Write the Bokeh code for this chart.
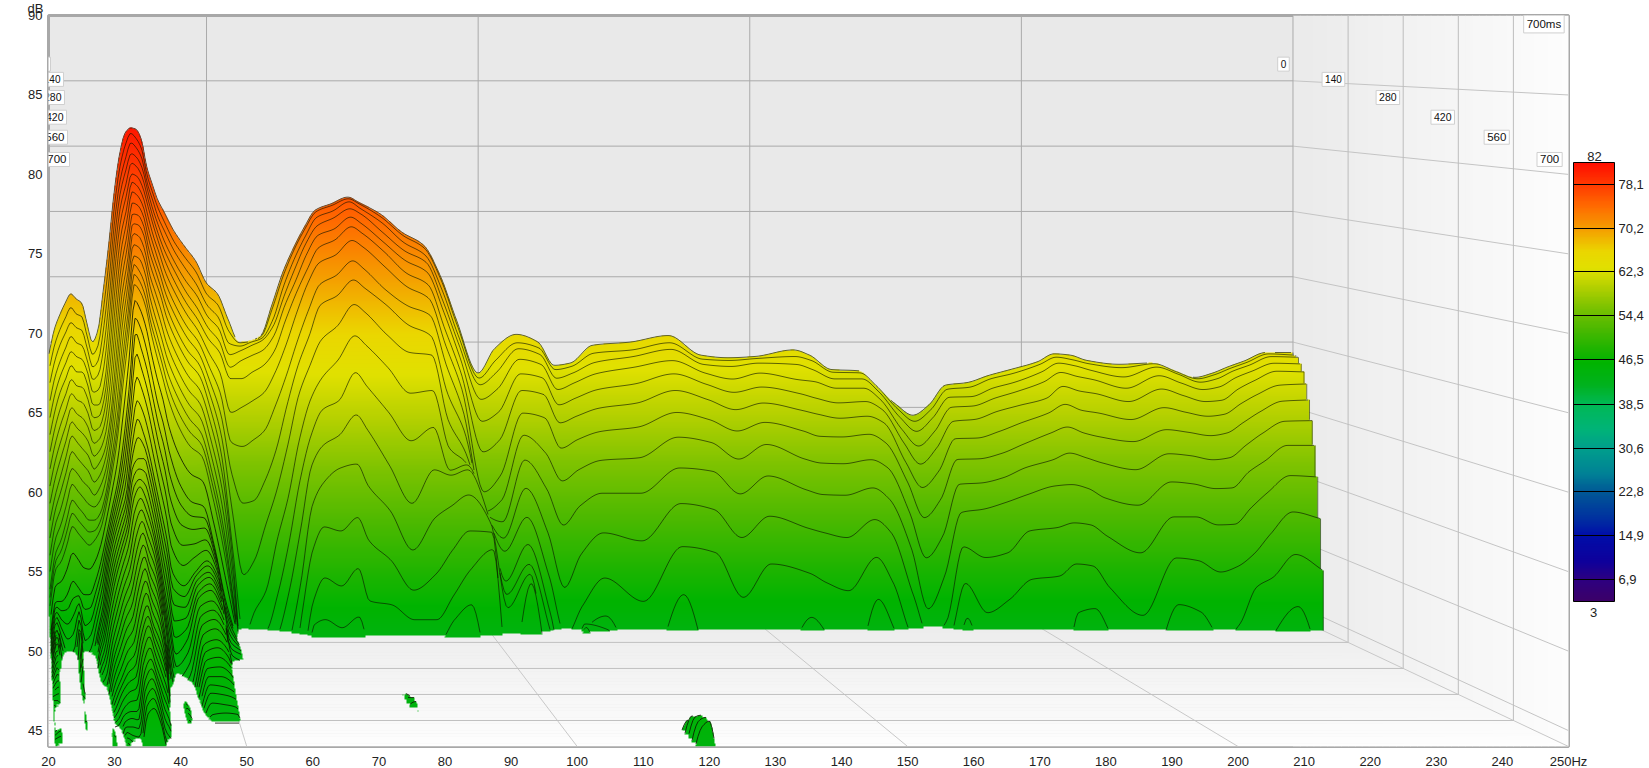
import numpy as np
from bokeh.core.properties import value
from bokeh.embed import file_html
from bokeh.layouts import column
from bokeh.models import ColorBar, FixedTicker, LinearColorMapper, Range1d
from bokeh.plotting import figure
from bokeh.resources import INLINE

# ---------------- axis texts ----------------
HZ_TICKS = list(range(20, 251, 10))
DB_TICKS = list(range(45, 91, 5))
BACK_HZ = [50, 100, 150, 200, 250]
TIME_LABELS = ["0", "140", "280", "420", "560", "700"]
TIME_DEPTH = [0.0, 0.2, 0.4, 0.6, 0.8, 1.0]
BAR_TICKS = [6.9, 14.9, 22.8, 30.6, 38.5, 46.5, 54.4, 62.3, 70.2, 78.1]
BAR_STOPS = [3, 6.9, 10, 14.9, 18, 22.8, 26, 30.6, 34, 38.5, 42, 46, 48, 52, 56, 60, 63, 66, 70, 74, 78, 82]
BAR_COLORS = [(60,0,105),(45,0,130),(15,0,155),(0,15,170),(0,50,160),(0,90,150),(0,130,150),(0,160,140),(0,180,120),
              (0,185,85),(0,178,30),(0,180,0),(25,180,0),(75,185,0),(125,195,0),(185,210,0),(225,225,0),(235,215,0),
              (245,160,0),(255,110,0),(255,60,0),(255,15,0)]
FLOOR_DB = 44.0

# ---------------- low-frequency decays: dB of each frequency, per slice of K_LOW ----------------
K_LOW = list(range(17)) + list(range(18, 41, 2)) + list(range(43, 101, 3))
F_LOW = [21,22,23,24,25,26,27,28,29,30,31,32,33,34,35,36,37,38,39,40,41,42,44,46,48,50,52,54]
D21 = [64.1,62.9,61.7,60.4,59.2,58,56.8,55.6,54.4,53.2,52,50.8,49.6,48.5,47.3,46.8,46.3,45.4,44.5,44.5,44.4,44.4,44.4,44.3,44.3,44.3,44.3,44.2,44.2]+[44.2]*20
D22 = [66,64.8,63.6,62.4,61.2,60,58.8,57.6,56.4,55.2,54,53,52,51,50,49.5,49,48,47,46.8,46.6,46.4,46.2,46,46,45.9,45.9,45.8,45.8,45.6,45.5,45.3,45.2,45,44.8,44.6,44.4,44.2,43.8,43.5,43.2,43.1,43,43,43.3,44.4,44.5,44.4,43.6]
D23 = [67.1,66,64.9,63.7,62.6,61.5,60.3,59.1,57.9,56.7,55.5,54.4,53.2,52.1,51,50.3,49.6,48.3,47,46.5,46,45.5,45,44.5,44.1,43.8,43.5,43.2,43]+[40]*20
D24 = [68,66.9,65.8,64.7,63.6,62.5,61.4,60.3,59.2,58.1,57,55.9,54.8,53.6,52.5,51.7,50.8,49.2,47.5,46.6,45.7,44.8,43.9,43]+[40]*25
D25 = [68.7,67.7,66.6,65.6,64.5,63.5,62.5,61.5,60.5,59.5,58.5,57.4,56.2,55.1,54,53.1,52.2,50.4,48.5,47.4,46.3,45.2,44.1,43]+[40]*25
D26 = [68.3,67.2,66.2,65.1,64.1,63,62,61,60,59,58,56.9,55.8,54.6,53.5,52.6,51.7,49.9,48,47.6,47.2,46.8,46.4,46,46,46,46.1,46.2,46.3,46.4,46.4,46.2,45.9,45.5,45.2,44.9,44.5,44.1,43.7,44,44.2,44.3,44.4,44.3,44.1,43.5,43,43,43]
D27 = [68,67,66,64.9,63.9,63,61.9,60.8,59.7,58.6,57.5,56.4,55.2,54.1,53,52.1,51.2,49.3,47.5,46.6,45.6,44.7,43.8,43]+[40]*25
D28 = [66.4,65.5,64.6,63.7,62.9,62,61,60,59,58,57,55.9,54.8,53.6,52.5,51.7,50.8,49.2,47.5,46.7,45.9,45.1,44.3,43.5]+[40]*25
D29 = [65,64.1,63.2,62.3,61.4,60.5,59.6,58.7,57.8,56.9,56,55.1,54.2,53.4,52.5,51.8,51.2,49.8,48.5,47.9,47.3,46.7,46.1,45.5,45.3,45,44.8,44.6,44.4,44.2,44.1,43.9,43.7,43.5]+[40]*15
D30 = [65.9,64.8,63.7,62.7,61.6,60.5,59.7,58.9,58.1,57.3,56.5,55.6,54.8,53.9,53,52.5,52,51,50,49.5,49,48.5,48,47.5,47.2,46.9,46.6,46.3,46,45.7,45.4,45.1,44.6,44.2,43.9,43.7,43.6,43.5,43.5,43.5,43.6,43.7,43.8,43.9,43.9,44.4,44.6,44.7,44.8]
D31 = [69,67.6,66.2,64.8,63.4,62,61.1,60.2,59.3,58.4,57.5,56.8,56,55.3,54.5,54.1,53.7,52.9,52,51.7,51.4,51.1,50.8,50.5,50.1,49.7,49.3,48.9,48.5,48.1,47.7,47.3,46.9,46.5,46.2,45.9,45.6,45.3,45,44.8,44.6,44.4,44.2,44.1,43.8,43.5,43.2,43,43]
D32 = [72.5,71.2,69.9,68.6,67.3,66,64.8,63.6,62.4,61.2,60,59.3,58.5,57.8,57,56.5,56,55,54,53.7,53.4,53.1,52.8,52.5,52.1,51.7,51.3,50.9,50.5,50,49.5,49,48.5,48,47.6,47.2,46.8,46.4,46,45.8,45.6,45.3,45,44.8,44.6,44.5,44.4,44.3,44.2]
D33 = [76.5,75.4,74.3,73.2,72.1,71,69.7,68.4,67.1,65.8,64.5,63.4,62.3,61.1,60,59.3,58.7,57.3,56,55.6,55.2,54.8,54.4,54,53.6,53.2,52.8,52.4,52,51.5,51,50.5,50,49.5,49,48.5,48,47.5,47,46.6,46.2,45.8,45.4,45,44.8,44.5,44.2,44,43.8]
D34 = [79.4,78.4,77.4,76.5,75.5,74.5,73.4,72.3,71.2,70.1,69,67.9,66.8,65.6,64.5,63.6,62.7,60.8,59,58.3,57.6,56.9,56.2,55.5,55.1,54.7,54.3,53.9,53.5,52.9,52.3,51.7,51.1,50.5,49.9,49.3,48.7,48.1,47.5,47,46.5,46,45.5,45,44.7,44.4,44.1,43.8,43.7]
D35 = [81,80.1,79.1,78.2,77.2,76.3,75.3,74.4,73.4,72.5,71.5,70.6,69.8,68.9,68,67.2,66.3,64.7,63,62.2,61.4,60.6,59.8,59,58.4,57.8,57.2,56.6,56,55.3,54.6,53.9,53.2,52.5,51.9,51.3,50.7,50.1,49.5,49.1,48.7,48.3,47.9,47.5,47.2,46.9,46.6,46.3,46]
D36 = [81.4,81,80.3,79.5,78.8,78,77.4,76.7,75.9,75.1,74.4,73.7,72.9,72.1,71.5,70.8,70.1,69,67.8,66.8,65.4,63.8,62.2,61,59.8,58.4,57.8,57.2,56.8,56.2,55.6,55,54.4,53.8,53.2,52.6,52,51.4,50.8,50.3,49.9,49.4,48.9,48.4,48,47.6,47.2,46.8,46.4]
D37 = [81.3,80.6,79.9,79.2,78.5,77.8,77.1,76.4,75.7,75,74.3,73.5,72.7,71.9,71,70.3,69.6,68.3,67,65.6,64.2,62.8,61.4,60,59.2,58.4,57.6,56.8,56,55.3,54.6,53.9,53.2,52.5,51.9,51.3,50.7,50.1,49.5,49.1,48.7,48.2,47.7,47.3,47,46.6,46.2,45.8,45.5]
D38 = [80.5,79.8,79.1,78.4,77.7,77,76.3,75.6,74.9,74.2,73.5,72.6,71.8,70.9,70,69.2,68.5,67,65.5,64.1,62.7,61.3,59.9,58.5,57.7,56.9,56.1,55.3,54.5,53.9,53.3,52.7,52.1,51.5,50.9,50.3,49.7,49.1,48.5,48,47.5,47,46.5,46,45.5,45,44.5,44.1,43.8]
D39 = [78.4,77.8,77.2,76.7,76.1,75.5,74.7,73.9,73.1,72.3,71.5,70.6,69.8,68.9,68,67.2,66.5,65,63.5,62.1,60.7,59.3,57.9,56.5,55.7,54.9,54.1,53.3,52.5,51.9,51.3,50.7,50.1,49.5,49,48.4,47.9,47.3,46.8,46.4,46,45.6,45.2,44.8,44.4,44.1,43.8,43.4,43]
D40 = [77.1,76.5,75.9,75.2,74.6,74,73.2,72.5,71.7,71,70.2,69.3,68.4,67.4,66.5,65.7,64.8,63.2,61.5,60.1,58.7,57.3,55.9,54.5,53.6,52.7,51.8,50.9,50,49.3,48.6,47.9,47.2,46.5,45.8,45.1,44.4,43.7,43]+[40]*10
D41 = [75.9,75.3,74.6,74,73.3,72.7,72,71.2,70.5,69.7,69,68,67,66,65,64.2,63.3,61.7,60,58.5,57,55.5,54,52.5,51.5,50.5,49.5,48.5,47.5,46.6,45.7,44.8,44.1,43.4]+[40]*15
D42 = [75.1,74.4,73.7,72.9,72.2,71.5,70.7,69.9,69.1,68.3,67.5,66.5,65.5,64.5,63.5,62.6,61.7,59.8,58,56.4,54.8,53.2,51.6,50,49,48,47,46,45,44.4,43.8,43.3,43,43,43,43,43.3,43.8,44.4,44.5,44.5,44.4,44.2,43.6,43,40,40,40,40]
D44 = [73.5,72.7,72,71.2,70.5,69.7,68.9,68,67.2,66.3,65.5,64.5,63.5,62.5,61.5,60.5,59.5,57.5,55.5,54.2,52.9,51.6,50.3,49,48.4,47.8,47.2,46.6,46,45.4,44.8,44.3,43.8,43.5,43.5,43.5,43.5,43.4,43.4,43.4,43.3,43.2,43.2,43,40,40,40,40,40]
D46 = [72.3,71.5,70.7,69.8,69,68.2,67.4,66.5,65.7,64.8,64,63,62,61,60,59.1,58.1,56.2,54.3,53.4,52.6,51.7,50.9,50,49.9,49.7,49.5,49.2,49,48.6,48.2,47.8,47.4,47,46.7,46.4,46.1,45.8,45.5,45.2,44.8,44.3,44,43.6,43,40,40,40,40]
D48 = [71.2,70.4,69.5,68.7,67.8,67,66.2,65.4,64.6,63.8,63,62,61,60,59,58.2,57.4,55.7,54,53.3,52.7,52,51.4,50.8,50.6,50.3,50.1,49.8,49.5,49,48.6,48.2,47.8,47.3,47,46.6,46.2,45.8,45.4,45.1,44.7,44.4,44,43.6,43,40,40,40,40]
D50 = [69.5,68.7,67.9,67.1,66.3,65.5,64.5,63.5,62.5,61.5,60.5,59.4,58.2,57.1,56,55.2,54.3,52.6,51,50.7,50.4,50.1,49.8,49.5,49.2,48.9,48.6,48.3,48,47.7,47.4,47.1,46.8,46.5,46.2,45.9,45.6,45.3,45,44.8,44.5,44.3,44,43.6,43,40,40,40,40]
D52 = [68.7,67.9,67,66.2,65.3,64.5,63,61.5,60,58.5,57,55.8,54.5,53.2,52,51.2,50.3,48.7,47,46.6,46.2,45.8,45.4,45,44.7,44.4,44,43.8,43.5]+[40]*20
D54 = [66.7,65.9,65,64.2,63.3,62.5,60,57.8,55.5,52.8,50,49,48,47,46,45.6,45.2,44.7,44.2,44.2,44.3,44.3,44.3,44.3,44.2,43.9,43.5,43,43]+[40]*20
LOW_COLUMNS = [D21,D22,D23,D24,D25,D26,D27,D28,D29,D30,D31,D32,D33,D34,D35,D36,D37,D38,D39,D40,D41,D42,D44,D46,D48,D50,D52,D54]

# ---------------- main slices k = 0..16, dB on F_MAIN ----------------
F_MAIN = [56,58,60,62,64,66,68,70,73,76,78,82,86,90,93,96,
          100,103,107,111,114,117,121,128,135,141,146,151,158,161,165,170,173,177,180,183,186,190,194,198,203,206,209,212,218,224,228,232,235,238,241,245,250]
M00 = [65.0,65.1,65.5,67.8,70.3,72.2,73.8,75.1,75.6,76.1,75.7,74.8,73.4,72.4,70.1,66.7,
       62.63,64.49,65.59,65.0,63.22,63.4,64.75,65.0,65.5,64.0,63.8,63.9,64.4,64.0,62.9,62.8,61.7,60.2,59.4,60.2,61.7,61.9,62.45,62.9,63.5,64.1,64.0,63.6,63.3,63.4,62.85,62.3,62.6,63.1,63.55,64.2,64.2]
M01 = [65.0,65.1,65.5,67.6,70.1,72.1,73.7,75,75.5,76,75.6,74.6,73.2,72.2,69.8,66.3,
       62.5,64.4,65.5,64.9,63.15,63.4,64.7,65.0,65.4,64.0,63.8,63.9,64.4,63.9,62.9,62.75,61.7,60.1,59.3,60.1,61.6,61.8,62.4,62.85,63.4,64.05,63.9,63.55,63.25,63.4,62.8,62.25,62.55,63.05,63.5,64.15,64.05]
M02 = [64.8,65.1,65.4,66.8,69.4,71.5,73.2,74.6,75.1,75.8,75.3,74.2,72.7,71.7,69.1,65.6,
       62.3,64.1,65.4,64.6,62.95,63.2,64.6,64.8,65.3,63.75,63.65,63.8,63.95,63.65,62.75,62.7,61.7,59.9,59.0,59.9,61.45,61.6,62.25,62.65,63.35,63.9,63.7,63.4,63.1,63.2,62.65,62.05,62.3,62.9,63.35,64.0,63.95]
M03 = [64.5,64.9,65.3,66.4,68.7,70.8,72.7,74,74.6,75.3,74.9,73.5,72.1,71.2,68.3,64.9,
       61.85,63.65,65.0,64.15,62.35,62.75,64.2,64.45,65.0,63.4,63.25,63.5,63.4,63.0,62.3,62.3,61.35,59.35,58.3,59.35,60.9,60.95,61.6,62.05,62.85,63.5,63.3,62.95,62.45,62.6,62.05,61.55,61.75,62.45,62.95,63.55,63.5]
M04 = [63.8,64.2,64.6,65.7,68,69.9,71.9,73.3,73.8,74.7,74.2,72.8,71.4,70.5,67.5,64,
       60.8,62.8,64.6,63.45,61.55,62.05,63.55,64.0,64.55,62.8,62.35,62.8,62.3,62.15,61.65,61.65,60.8,58.5,57.25,58.4,60.2,60.3,60.9,61.4,62.15,62.85,62.55,62.3,61.65,61.65,61.15,60.7,60.8,61.65,62.3,63.0,62.95]
M05 = [62.5,63,63.5,64.6,66.9,69,70.8,72.4,73,74,73.5,72.1,70.5,69.6,66.3,62.9,
       59.2,61.6,63.85,62.5,60.45,60.95,62.75,63.25,63.75,62.0,61.4,61.8,61.3,60.95,60.6,60.7,60.1,57.55,55.95,57.2,59.2,59.35,59.95,60.4,60.95,61.85,61.5,61.3,60.7,60.3,59.95,59.65,59.8,60.6,61.3,62.0,62.1]
M06 = [60.4,60.9,61.5,63,65.1,67.6,69.8,71.3,71.9,73,72.5,71,69.5,68.6,65.1,61.7,
       56.95,59.9,62.8,61.3,59.15,59.65,61.6,62.05,62.8,60.9,60.15,60.65,60.1,59.8,59.5,59.65,59.15,56.15,54.25,55.5,57.95,58.0,58.5,59.15,59.9,60.55,60.1,59.9,59.4,58.7,58.5,58.25,58.45,59.25,60.05,60.85,60.95]
M07 = [57.5,58,58.7,60.6,62.9,65.5,67.8,69.7,70.4,71.5,70.9,69.3,68.1,67.4,63.6,60.2,
       54.0,57.85,61.6,59.6,57.3,57.95,60.25,60.65,61.6,59.45,58.6,59.25,58.6,58.2,58.15,58.35,57.7,54.7,52.05,53.45,56.45,56.5,56.9,57.6,58.45,58.9,58.45,58.15,57.8,56.95,56.8,56.5,56.65,57.6,58.5,59.4,59.45]
M08 = [53.3,53.5,55,57.3,60.7,63.7,65.9,68.2,68.9,70.1,69.5,68.2,66.7,65.9,61.6,58.8,
       52.6,55.25,59.95,57.0,54.9,55.75,58.55,58.9,60.0,57.8,56.55,57.65,56.55,56.25,56.2,56.5,55.9,52.5,49.1,50.75,54.65,54.75,55.15,55.9,56.5,57.0,56.65,56.25,55.75,54.9,54.75,54.4,54.45,55.65,56.5,57.65,57.65]
M09 = [48,49.1,51.7,54.3,57.7,61.5,63.7,65.6,66.7,68.3,67.7,66,64.7,64.5,59.6,57.3,
       52.45,53.45,58.35,54.35,51.65,53.1,56.45,56.65,58.2,55.7,54.0,55.35,54.3,53.95,53.9,54.45,53.6,49.85,45.35,47.85,52.6,52.85,53.35,53.95,54.6,54.7,54.4,53.7,53.15,52.35,52.35,51.75,51.8,53.05,54.2,55.45,55.35]
M10 = [43.5,45.4,46.9,50.7,53.9,58.2,61.2,62.8,64.2,66,65.3,63.6,61.7,61.9,57.6,56.5,
       52.4,51.9,56.55,51.15,47.05,49.55,54.05,54.05,55.95,52.9,50.8,52.4,51.5,51.15,50.8,52.15,51.15,46.45,43.2,44.55,50.1,49.3,49.65,51.3,51.55,51.9,51.75,50.9,49.65,49.35,49.15,48.3,48.7,49.65,51.15,52.8,52.3]
M11 = [40,43.5,44,46.7,50.5,55.2,58.6,60.5,61.2,63.3,62.3,60.3,58.2,59.2,56,56.4,
       52.35,50.75,54.5,48.0,43.5,45.75,51.15,50.55,53.35,49.75,46.4,48.9,48.2,47.5,46.9,49.4,47.5,43.3,43.3,43.3,47.45,45.25,46.25,47.75,48.0,48.9,48.75,47.15,45.05,45.95,45.4,43.3,44.5,47.25,48.0,49.7,48.5]
M12 = [40,40,42,43.8,47.1,51.6,56.4,57.9,58.7,60.2,59.1,56.4,53.6,56.1,55.7,56.1,
       52.3,49.85,52.4,45.35,40,44,47.85,46.1,50.2,40,40,40,45,43.6,40,46.35,44,40,40,40,44.95,40,40,40,40,45.35,45.65,43.6,40,40,40,40,40,40,44.1,45.9,40]
M13 = [40,40,40,40,43.5,47.9,53.5,55.2,56.3,56.6,55,53.1,50.2,52.6,53.5,54.3,
       52.3,47.7,50.45,43.85,40,44.6,45.1,40,46.7]+[40]*28
M14 = [40,40,40,40,40,45.4,50.3,52,51.7,52.7,51,49.5,47.3,48.5,50.3,51.7,
       52.15,46.8,49.05,40,40,44.45,44.2]+[40]*30
M15 = [40,40,40,40,40,42,46.6,48.3,47.7,49,46.6,46.3,45.2,45.2,47,48.9,
       51.6,45.9,48.4]+[40]*34
M16 = [40,40,40,40,40,40,44.9,45.3,44.7,45.5,43,42,43.5,43.5,45.3,46.4,
       50.4,40,47.8]+[40]*34
# columns whose rows above were read one or two slices late
SLICE_LAG = {100:1,103:2,107:2,111:1,114:1,117:1,121:2,128:2,135:2,141:1,146:1,151:1,158:1,161:1,165:1,170:1,173:1,177:1,180:1,
             183:1,186:1,190:1,194:1,198:1,203:1,206:1,209:1,212:1,218:1}
_A = np.array([M00,M01,M02,M03,M04,M05,M06,M07,M08,M09,M10,M11,M12,M13,M14,M15,M16], dtype=float)
_B = _A.copy()
for _f, _lag in SLICE_LAG.items():
    _c = F_MAIN.index(_f)
    _B[1:17-_lag, _c] = _A[1+_lag:, _c]
    _B[17-_lag:, _c] = 40
MAIN_ROWS = _B.tolist()

# ---------------- two small late ringing islands ----------------
F_ISLE_A = [77,78,79,80]
K_ISLE_A = [61,64,67,70,73]
ISLE_A = [[40,44.1,40,40],[40,44.4,44.1,40],[40,44.4,44.4,40],[40,44.2,44.4,40],[40,40,44.1,40]]
F_ISLE_B = [117,118,119,120,121]
K_ISLE_B = [85,88,91,94,97,100]
ISLE_B = [[40,40,44.2,40,40],[40,44,44.7,44.5,40],[40,44.2,45.2,45.2,40],[40,44.3,45.4,45.5,40],[40,44.3,45.4,45.6,44],[40,44.2,45.3,45.6,43.9]]

# ---------------- perspective: depth d 0 (back) .. 1 (front) ----------------
X0, S0 = 15.8, 0.822
def depth_scale(d):
    return S0 + (1 - S0) * np.asarray(d, dtype=float)
def project(f, db, d):
    s = depth_scale(d)
    return X0 + (np.asarray(f, dtype=float) - X0) * s, 90 - (90 - np.asarray(db, dtype=float)) * s

def pchip(x, y, q):
    x = np.asarray(x, dtype=float); y = np.asarray(y, dtype=float)
    h = np.diff(x); dl = np.diff(y) / h
    m = np.zeros_like(y); m[0] = dl[0]; m[-1] = dl[-1]
    for i in range(1, len(x) - 1):
        if dl[i-1] * dl[i] > 0:
            w1 = 2*h[i] + h[i-1]; w2 = h[i] + 2*h[i-1]
            m[i] = (w1 + w2) / (w1/dl[i-1] + w2/dl[i])
    i = np.clip(np.searchsorted(x, q) - 1, 0, len(h) - 1)
    t = (q - x[i]) / h[i]
    return ((2*t**3 - 3*t**2 + 1)*y[i] + (t**3 - 2*t**2 + t)*h[i]*m[i]
            + (-2*t**3 + 3*t**2)*y[i+1] + (t**3 - t**2)*h[i]*m[i+1])

# (k, freqs, values, outlined); un-outlined sheets only close the raster between read slices
slices = []
low_rows = [[c[i] for c in LOW_COLUMNS] for i in range(len(K_LOW))]
for i, k in enumerate(K_LOW):
    f = list(F_LOW); v = list(low_rows[i])
    if k <= 16:
        f += F_MAIN; v += MAIN_ROWS[k]
    slices.append((k, f, v, True))
    if i + 1 < len(K_LOW) and K_LOW[i+1] - k > 1:
        for t in range(k + 1, K_LOW[i+1]):
            w = (t - k) / (K_LOW[i+1] - k)
            slices.append((t, list(F_LOW), list((1-w)*np.array(low_rows[i]) + w*np.array(low_rows[i+1])), False))
for k, row in zip(K_ISLE_A, ISLE_A):
    slices.append((k, F_ISLE_A, row, True))
for k, row in zip(K_ISLE_B, ISLE_B):
    slices.append((k, F_ISLE_B, row, True))
slices.sort(key=lambda s: s[0])

# ---------------- figure ----------------
FW, FH = 1520, 731
p = figure(frame_width=FW, frame_height=FH, x_range=Range1d(20, 250), y_range=Range1d(44, 90),
           output_backend="svg", toolbar_location=None, min_border_left=48, min_border_top=15,
           min_border_bottom=22, min_border_right=81, background_fill_color="#e9e9e9",
           border_fill_color="white", margin=0, frame_align=False)
p.grid.visible = False
p.outline_line_color = "#a8a8a8"; p.outline_line_width = 3
FONT = "Liberation Sans"
for ax, ticks in ((p.xaxis[0], HZ_TICKS), (p.yaxis[0], DB_TICKS)):
    ax.ticker = FixedTicker(ticks=ticks)
    ax.axis_line_color = None
    ax.major_tick_line_color = None; ax.minor_tick_line_color = None
    ax.major_tick_in = 0; ax.major_tick_out = 0; ax.minor_tick_in = 0; ax.minor_tick_out = 0
    ax.major_label_text_font = FONT; ax.major_label_text_font_size = "13px"
    ax.major_label_text_color = "#222222"
p.xaxis[0].major_label_overrides = {250: "250Hz"}
p.xaxis[0].major_label_standoff = 7
p.yaxis[0].major_label_standoff = 6

# walls
N = 40
dd = np.linspace(0, 1, N + 1)
wx, _ = project(250, 44, dd)
wall = [f"#{int(a):02x}{int(a):02x}{int(a):02x}" for a in np.linspace(235, 253, N)]
p.quad(left=wx[:-1], right=wx[1:] + 0.1, bottom=44, top=90, color=wall, line_width=0)
fxr, fy = project(250, 44, dd)
fxl, _ = project(20, 44, dd)
floor_col = [f"#{int(a):02x}{int(a):02x}{int(a):02x}" for a in np.linspace(236, 254, N)]
p.patches(xs=[[fxl[i], fxr[i], fxr[i+1], fxl[i+1]] for i in range(N)],
          ys=[[fy[i], fy[i], fy[i+1], fy[i+1]] for i in range(N)], color=floor_col, line_width=0)

# grid lines
gx, gy, gc = [], [], []
def seg(a, b, c):
    gx.append([a[0], b[0]]); gy.append([a[1], b[1]]); gc.append(c)
for db in DB_TICKS[:-1]:
    seg(project(20, db, 0), project(250, db, 0), "#aaaaaa")
    seg(project(250, db, 0), project(250, db, 1), "#c4c4c4")
for f in BACK_HZ:
    seg(project(f, 44, 0), project(f, 90, 0), "#aaaaaa")
    seg(project(f, 44, 0), project(f, 44, 1), "#c8c8c8")
seg(project(20, 44, 0), project(250, 44, 0), "#bbbbbb")
for d in TIME_DEPTH[1:5]:
    seg(project(250, 44, d), project(250, 90, d), "#bdbdbd")
    seg(project(20, 44, d), project(250, 44, d), "#c0c0c0")
p.multi_line(gx, gy, line_color=gc, line_width=1)

# surface raster, painted back to front
lut_db = np.linspace(3, 82, 512)
lut_rgb = np.stack([np.interp(lut_db, BAR_STOPS, [c[j] for c in BAR_COLORS]) for j in range(3)], axis=1).astype(np.uint32)
lut = (255 << 24) | (lut_rgb[:, 2] << 16) | (lut_rgb[:, 1] << 8) | lut_rgb[:, 0]
img = np.zeros((FH, FW), dtype=np.uint32)
owner = -np.ones((FH, FW), dtype=np.int32)
col_x = 20 + (np.arange(FW) + 0.5) * 230 / FW
row_y = 90 - (np.arange(FH) + 0.5) * 46 / FH
tops = []
for idx, (k, f, v, outlined) in enumerate(slices):
    d = k / 100
    s = depth_scale(d)
    fq = X0 + (col_x - X0) / s
    cols = np.nonzero((fq >= f[0]) & (fq <= f[-1]))[0]
    vals = pchip(f, v, fq[cols])
    db_rows = 90 - (90 - row_y) / s
    mask = (db_rows[:, None] <= vals[None, :]) & (db_rows[:, None] >= FLOOR_DB)
    rr, cc = np.nonzero(mask)
    li = np.clip(((db_rows[rr] - 3) / 79 * 511).astype(int), 0, 511)
    img[rr, cols[cc]] = lut[li]
    owner[rr, cols[cc]] = idx
    tops.append((cols, vals, s, k, outlined))
p.image_rgba(image=[img[::-1]], x=20, y=44, dw=230, dh=46)

# slice outlines, only where a slice is not hidden by a nearer one
xs, ys, al = [], [], []
for idx, (cols, vals, s, k, outlined) in enumerate(tops):
    if not outlined:
        continue
    cols2 = cols[::2]; vals2 = vals[::2]
    X = col_x[cols2]
    Y = 90 - (90 - vals2) * s
    r = np.clip(((90 - Y) * FH / 46).astype(int) + 1, 0, FH - 1)
    r2 = np.clip(r + 3, 0, FH - 1)
    vis = (vals2 >= FLOOR_DB) & ((owner[r, cols2] == idx) | (owner[r2, cols2] <= idx))
    Yv = np.where(vis, Y, np.nan)
    if vis.any():
        xs.append(X); ys.append(Yv); al.append(0.62 if k <= 16 else 0.82)
p.multi_line(xs, ys, line_color="#0c1400", line_alpha=al, line_width=1)

# right-hand staircase of the back slices
ex, ey = [], []
edge = [M[-1] for M in MAIN_ROWS[:12]] + [FLOOR_DB]
for i in range(12):
    a = project(250, edge[i], i / 100); b = project(250, max(edge[i+1], FLOOR_DB), i / 100)
    ex.append([a[0], b[0]]); ey.append([a[1], b[1]])
p.multi_line(ex, ey, line_color="#0c1400", line_alpha=0.5, line_width=1)

# time labels, clipped by the plot frame
L_X = [20.76, 22.72, 22.87, 23.18, 23.33, 23.63]
R_X = [208.2, 216.6, 224.9, 233.2, 241.5, 249.5]
T_Y = [86.94, 85.98, 84.84, 83.6, 82.34, 80.94]
T_SIZE = ["10px", "10px", "10.5px", "10.5px", "11.5px", "11.5px"]
box = dict(text_font=value(FONT), text_align="right", text_baseline="middle",
           text_color="#111111", background_fill_color="white", border_line_color="#cfcfcf", padding=3, x_offset=-3)
p.text(x=L_X + R_X + [249.8], y=T_Y + T_Y + [89.47], text=TIME_LABELS + TIME_LABELS + ["700ms"],
       text_font_size=T_SIZE + T_SIZE + ["11.5px"], **box)

# colour bar
pal_db = np.linspace(3, 82, 256)
pal_rgb = np.stack([np.interp(pal_db, BAR_STOPS, [c[j] for c in BAR_COLORS]) for j in range(3)], axis=1).astype(int)
palette = [f"#{r:02x}{g:02x}{b:02x}" for r, g, b in pal_rgb]
cb = ColorBar(color_mapper=LinearColorMapper(palette=palette, low=3, high=82),
              ticker=FixedTicker(ticks=BAR_TICKS),
              major_label_overrides={t: str(t).replace(".", ",") for t in BAR_TICKS},
              width=41, height=439, padding=5, margin=0, location=(0, 140), label_standoff=4,
              major_tick_in=41, major_tick_line_color="black", minor_tick_line_color=None,
              bar_line_color="black", border_line_color=None, background_fill_color=None,
              major_label_text_font=FONT, major_label_text_font_size="13px", major_label_text_color="#222222")
p.add_layout(cb, "right")

# transparent overlay the size of the page, for the texts that lie outside the plot frame
OUTER_TEXT = ["dB", "82", "3"]
OUTER_PX = [35, 1594, 1593]
OUTER_PY = [5, 153, 609]
q = figure(width=1649, height=768, x_range=Range1d(0, 1649), y_range=Range1d(768, 0), output_backend="svg",
           toolbar_location=None, min_border=0, x_axis_type=None, y_axis_type=None, frame_align=False,
           background_fill_color=None, border_fill_color=None, outline_line_color=None, margin=(-768, 0, 0, 0))
q.grid.visible = False
q.text(x=OUTER_PX, y=OUTER_PY, text=OUTER_TEXT, text_align="center", text_baseline="middle",
       text_font=value(FONT), text_font_size=value("13px"), text_color="#222222")

open("out.html", "w").write(file_html(column(p, q, spacing=0, margin=0), INLINE))
